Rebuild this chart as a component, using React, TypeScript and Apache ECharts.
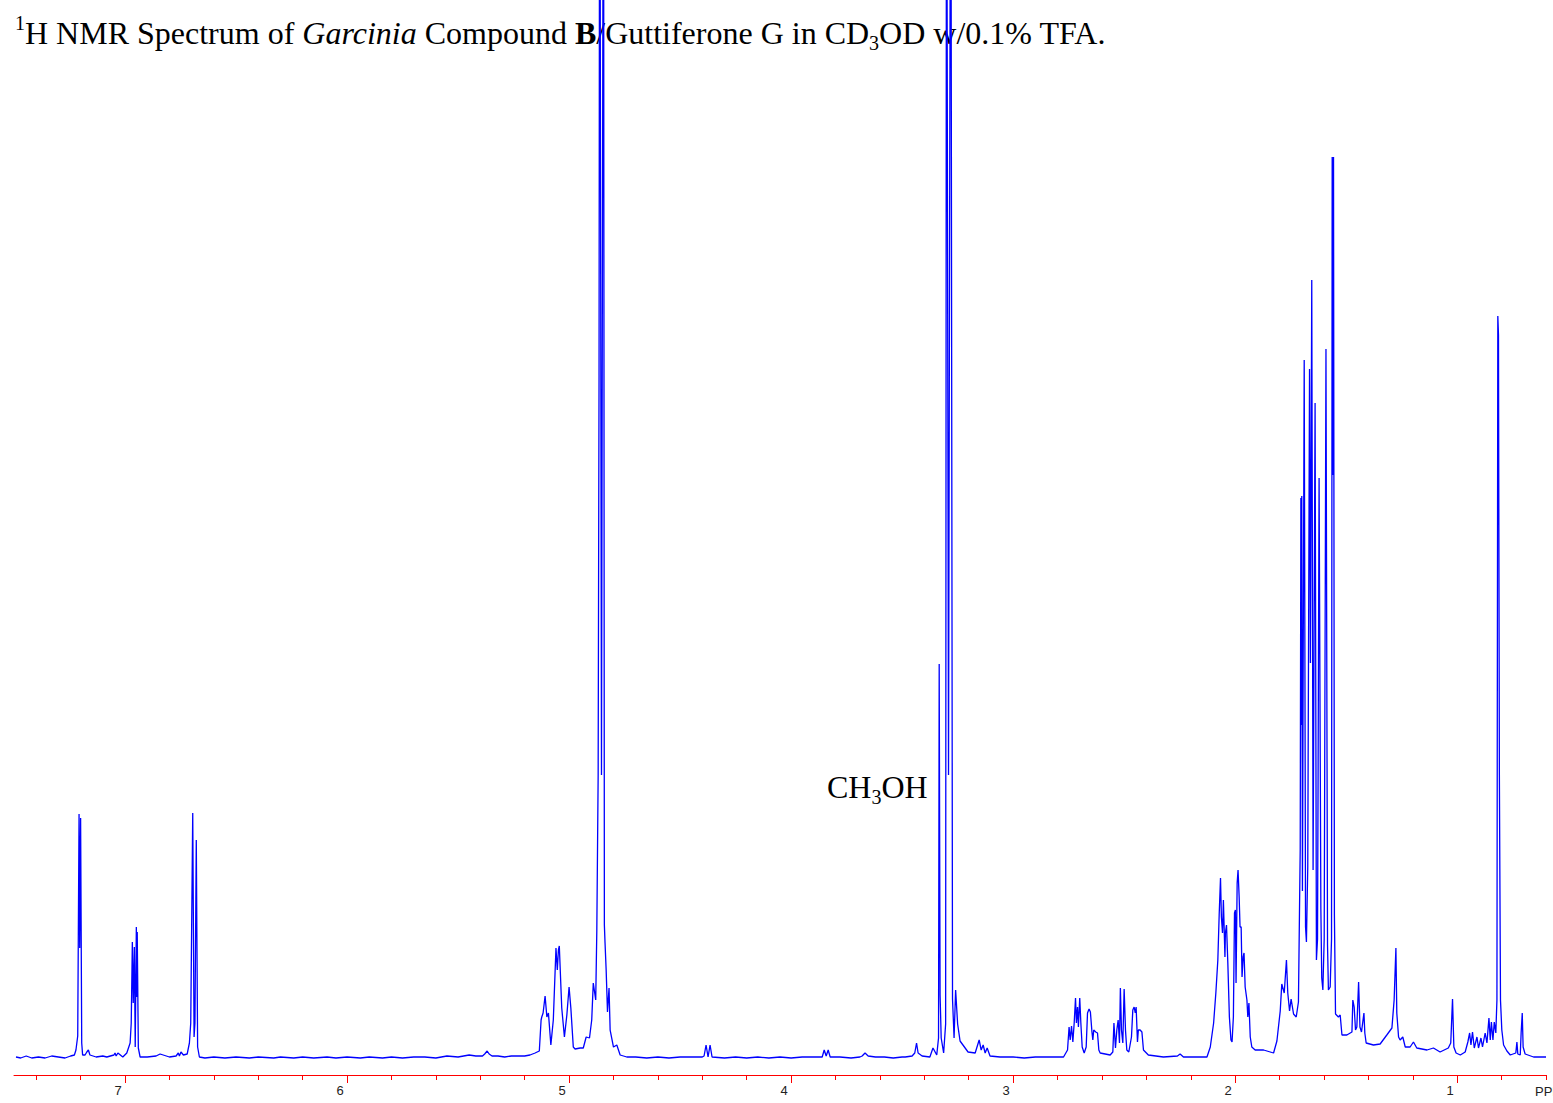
import React, { useEffect, useRef } from "react";
import * as echarts from "echarts";

type Pt = [number, number];

// [chemical shift (ppm), intensity (arbitrary units)]
const aromaticRegion: Pt[] = [
  [7.491, 18], [7.47, 17], [7.445, 19], [7.42, 17], [7.39, 18], [7.36, 17], [7.33, 19], [7.3, 18], [7.27, 17],
  [7.245, 19], [7.228, 20], [7.221, 25], [7.213, 39], [7.207, 261], [7.204, 127], [7.2, 257], [7.195, 32],
  [7.191, 20], [7.18, 20], [7.172, 23], [7.165, 25], [7.158, 20], [7.13, 18], [7.1, 19], [7.082, 18], [7.05, 20],
  [7.045, 22], [7.04, 19], [7.032, 22], [7.01, 18], [6.992, 22], [6.977, 32], [6.972, 52], [6.967, 133],
  [6.963, 72], [6.958, 128], [6.954, 28], [6.949, 148], [6.946, 78], [6.945, 143], [6.94, 27], [6.932, 18],
  [6.9, 18], [6.86, 19], [6.842, 21], [6.8, 18], [6.77, 19], [6.76, 22], [6.755, 19], [6.748, 23], [6.737, 20],
  [6.72, 21], [6.71, 32], [6.704, 52], [6.695, 262], [6.689, 38], [6.685, 52], [6.679, 235], [6.673, 28],
  [6.665, 18], [6.64, 17],
];

const emptyRegion: Pt[] = [
  [6.6, 18], [6.55, 17], [6.5, 18], [6.44, 17], [6.4, 18], [6.33, 17], [6.3, 18], [6.24, 17], [6.2, 18],
  [6.15, 17], [6.09, 18], [6.05, 17], [6.0, 18], [5.94, 17], [5.9, 18], [5.84, 17], [5.8, 18], [5.75, 17],
  [5.7, 18], [5.65, 18], [5.6, 17], [5.55, 19], [5.5, 18], [5.45, 20], [5.42, 19], [5.39, 19], [5.38, 21],
  [5.369, 24], [5.36, 21], [5.347, 19], [5.32, 19], [5.29, 18], [5.26, 19], [5.23, 19], [5.2, 19], [5.176, 20],
];

const olefinicRegion: Pt[] = [
  [5.153, 22], [5.134, 24], [5.126, 55], [5.123, 58], [5.117, 62], [5.108, 79], [5.1, 58], [5.093, 62],
  [5.082, 30], [5.071, 55], [5.059, 127], [5.053, 105], [5.048, 125], [5.044, 129], [5.033, 67], [5.021, 38],
  [5.01, 60], [5.0, 88], [4.992, 67], [4.981, 28], [4.973, 26], [4.95, 27], [4.936, 27], [4.923, 38],
  [4.908, 37], [4.898, 55], [4.891, 92], [4.88, 75], [4.875, 145], [4.869, 300], [4.865, 700], [4.862, 1400],
  [4.854, 300], [4.845, 1400], [4.841, 150], [4.838, 132], [4.833, 105], [4.827, 63], [4.82, 87], [4.815, 45],
  [4.8, 28], [4.785, 30], [4.77, 20], [4.74, 18],
];

const midRegion: Pt[] = [
  [4.7, 18], [4.65, 17], [4.6, 18], [4.55, 17], [4.5, 18], [4.45, 18], [4.4, 18], [4.392, 19], [4.383, 30],
  [4.374, 18], [4.365, 30], [4.356, 18], [4.3, 17], [4.25, 18], [4.2, 17], [4.15, 18], [4.1, 17], [4.05, 18],
  [4.0, 17], [3.95, 18], [3.9, 18], [3.86, 18], [3.851, 25], [3.842, 19], [3.833, 25], [3.824, 18], [3.78, 18],
  [3.73, 17], [3.69, 18], [3.68, 19], [3.667, 22], [3.653, 19], [3.62, 18], [3.58, 18], [3.54, 17], [3.5, 18],
];

const solventRegion: Pt[] = [
  [3.486, 18], [3.455, 19], [3.443, 22], [3.435, 32], [3.428, 22], [3.41, 19], [3.375, 18], [3.361, 27],
  [3.344, 20], [3.336, 37], [3.333, 411], [3.329, 80], [3.324, 37], [3.313, 22], [3.304, 51], [3.3, 1400],
  [3.291, 300], [3.281, 1400], [3.273, 76], [3.266, 37], [3.259, 85], [3.25, 51], [3.239, 34], [3.226, 30],
  [3.203, 23], [3.171, 22], [3.153, 35], [3.144, 25], [3.135, 30], [3.126, 22], [3.117, 27], [3.104, 19],
  [3.059, 18], [3.0, 18], [2.95, 17], [2.9, 18], [2.86, 18],
];

const allylicRegion: Pt[] = [
  [2.833, 18], [2.773, 18], [2.755, 25], [2.748, 48], [2.743, 35], [2.737, 49], [2.731, 33], [2.725, 52],
  [2.719, 77], [2.715, 52], [2.71, 68], [2.706, 48], [2.7, 77], [2.695, 52], [2.689, 28], [2.68, 22],
  [2.671, 28], [2.665, 62], [2.658, 66], [2.652, 63], [2.645, 43], [2.641, 35], [2.637, 45], [2.628, 43],
  [2.62, 42], [2.614, 25], [2.608, 22], [2.563, 20], [2.551, 23], [2.546, 52], [2.539, 27], [2.533, 45],
  [2.527, 55], [2.521, 32], [2.517, 87], [2.512, 45], [2.506, 32], [2.5, 86], [2.494, 45], [2.488, 25],
  [2.479, 23], [2.467, 38], [2.461, 65], [2.455, 68], [2.45, 62], [2.446, 68], [2.44, 33], [2.436, 45],
  [2.428, 45], [2.42, 43], [2.413, 25], [2.391, 20], [2.323, 18], [2.26, 19], [2.248, 21], [2.233, 18],
  [2.18, 18], [2.127, 18],
];

const methyleneRegion: Pt[] = [
  [2.112, 28], [2.097, 52], [2.087, 82], [2.078, 115], [2.072, 160], [2.066, 197], [2.062, 158], [2.057, 142],
  [2.053, 175], [2.046, 118], [2.044, 142], [2.039, 150], [2.033, 112], [2.026, 58], [2.019, 35], [2.014, 33],
  [2.008, 58], [2.003, 162], [1.999, 165], [1.996, 92], [1.991, 192], [1.987, 205], [1.982, 178], [1.978, 148],
  [1.973, 148], [1.969, 98], [1.964, 118], [1.96, 122], [1.955, 88], [1.947, 75], [1.943, 58], [1.938, 72],
  [1.932, 38], [1.925, 28], [1.91, 25], [1.872, 25], [1.842, 23], [1.827, 22],
];

const methylRegion: Pt[] = [
  [1.812, 34], [1.797, 64], [1.79, 91], [1.779, 82], [1.769, 115], [1.763, 82], [1.755, 64], [1.748, 76],
  [1.737, 61], [1.725, 58], [1.715, 73], [1.707, 226], [1.704, 577], [1.702, 350], [1.7, 579], [1.697, 184],
  [1.689, 715], [1.683, 148], [1.679, 133], [1.673, 208], [1.665, 706], [1.661, 412], [1.655, 795],
  [1.649, 205], [1.64, 672], [1.634, 115], [1.629, 136], [1.622, 597], [1.614, 166], [1.61, 97], [1.605, 85],
  [1.599, 136], [1.591, 726], [1.584, 130], [1.58, 85], [1.572, 88], [1.566, 136], [1.563, 918], [1.56, 600],
  [1.557, 918], [1.553, 160], [1.548, 61], [1.535, 58], [1.527, 60],
];

const upfieldRegion: Pt[] = [
  [1.519, 40], [1.497, 40], [1.474, 43], [1.47, 75], [1.464, 68], [1.458, 45], [1.452, 48], [1.444, 93],
  [1.438, 48], [1.431, 43], [1.42, 62], [1.416, 42], [1.41, 32], [1.377, 30], [1.347, 31], [1.317, 40],
  [1.294, 47], [1.284, 75], [1.276, 127], [1.272, 62], [1.264, 38], [1.257, 35], [1.245, 38], [1.234, 28],
  [1.212, 28], [1.197, 33], [1.182, 27], [1.136, 25], [1.107, 27], [1.077, 23], [1.04, 27], [1.029, 32],
  [1.021, 76], [1.015, 28], [1.005, 22], [0.986, 20], [0.964, 23], [0.952, 33], [0.944, 42], [0.938, 30],
  [0.931, 43], [0.923, 27], [0.911, 38], [0.904, 27], [0.893, 37], [0.886, 28], [0.874, 42], [0.866, 32],
  [0.857, 57], [0.851, 35], [0.846, 53], [0.839, 35], [0.833, 53], [0.826, 42], [0.821, 75], [0.817, 759],
  [0.814, 740], [0.81, 300], [0.805, 75], [0.799, 45], [0.791, 30], [0.776, 24], [0.761, 20], [0.736, 22],
  [0.731, 33], [0.727, 21], [0.716, 20], [0.712, 42], [0.707, 62], [0.703, 28], [0.694, 21], [0.656, 18],
  [0.6, 18],
];

const ppmAxisMin = 0.6;
const ppmAxisMax = 7.5;
const majorTicks = [1, 2, 3, 4, 5, 6, 7];
const minorTicks = [
  0.6, 0.8, 1.2, 1.4, 1.6, 1.8, 2.2, 2.4, 2.6, 2.8, 3.2, 3.4, 3.6, 3.8, 4.2, 4.4, 4.6, 4.8,
  5.2, 5.4, 5.6, 5.8, 6.2, 6.4, 6.6, 6.8, 7.2, 7.4,
];
const intensityMax = 1075;

export default function App() {
  const ref = useRef<HTMLDivElement>(null);

  useEffect(() => {
    if (!ref.current) return;
    const chart = echarts.init(ref.current, null, { renderer: "svg" });
    const spectrum = [
      ...aromaticRegion,
      ...emptyRegion,
      ...olefinicRegion,
      ...midRegion,
      ...solventRegion,
      ...allylicRegion,
      ...methyleneRegion,
      ...methylRegion,
      ...upfieldRegion,
    ];
    const serif = '"Liberation Serif", "Times New Roman", serif';
    const sans = '"Liberation Sans", Arial, sans-serif';

    chart.setOption({
      animation: false,
      backgroundColor: "#ffffff",
      grid: { left: 14, right: 7, top: 0, bottom: 28, containLabel: false },
      xAxis: [
        {
          type: "value",
          inverse: true,
          min: ppmAxisMin,
          max: ppmAxisMax,
          position: "bottom",
          axisLine: { show: true, onZero: false, lineStyle: { color: "#ff0000", width: 1 } },
          axisTick: { show: true, length: 8, customValues: majorTicks, lineStyle: { color: "#ff0000", width: 1 } },
          splitLine: { show: false },
          axisLabel: {
            show: true,
            customValues: majorTicks,
            margin: 9,
            color: "#222222",
            fontFamily: sans,
            fontSize: 13,
            padding: [0, 14, 0, 0],
            formatter: (v: number) => String(v),
          },
        },
        {
          type: "value",
          inverse: true,
          min: ppmAxisMin,
          max: ppmAxisMax,
          position: "bottom",
          axisLine: { show: false, onZero: false },
          axisTick: { show: true, length: 5, customValues: minorTicks, lineStyle: { color: "#ff0000", width: 1 } },
          splitLine: { show: false },
          axisLabel: { show: false },
        },
      ],
      yAxis: { type: "value", min: 0, max: intensityMax, show: false },
      series: [
        {
          type: "line",
          xAxisIndex: 0,
          data: spectrum,
          symbol: "none",
          clip: true,
          lineStyle: { color: "#0000ff", width: 1.3 },
        },
      ],
      graphic: [
        {
          type: "text",
          x: 15,
          y: 33,
          style: {
            text:
              "{sup|1}{n|H NMR Spectrum of }{i|Garcinia}{n| Compound }{b|B}{n|/Guttiferone G in CD}{sub|3}{n|OD w/0.1% TFA.}",
            verticalAlign: "middle",
            fill: "#000",
            font: `32px ${serif}`,
            rich: {
              n: { fontFamily: serif, fontSize: 32, lineHeight: 40, fill: "#000", verticalAlign: "middle" },
              i: { fontFamily: serif, fontSize: 32, fontStyle: "italic", lineHeight: 40, fill: "#000", verticalAlign: "middle" },
              b: { fontFamily: serif, fontSize: 32, fontWeight: "bold", lineHeight: 40, fill: "#000", verticalAlign: "middle" },
              sup: { fontFamily: serif, fontSize: 20, lineHeight: 40, fill: "#000", verticalAlign: "top" },
              sub: { fontFamily: serif, fontSize: 20, lineHeight: 40, fill: "#000", verticalAlign: "bottom" },
            },
          },
        },
        {
          type: "text",
          x: 827,
          y: 787,
          style: {
            text: "{n|CH}{sub|3}{n|OH}",
            verticalAlign: "middle",
            fill: "#000",
            font: `32px ${serif}`,
            rich: {
              n: { fontFamily: serif, fontSize: 32, lineHeight: 40, fill: "#000", verticalAlign: "middle" },
              sub: { fontFamily: serif, fontSize: 20, lineHeight: 40, fill: "#000", verticalAlign: "bottom" },
            },
          },
        },
        {
          type: "text",
          x: 1535,
          y: 1091,
          style: { text: "PPM", fill: "#222222", font: `13px ${sans}`, verticalAlign: "middle" },
        },
      ],
    });
    return () => chart.dispose();
  }, []);

  return (
    <div
      ref={ref}
      style={{ position: "absolute", left: 0, top: 0, width: 1553, height: 1103 }}
    />
  );
}
